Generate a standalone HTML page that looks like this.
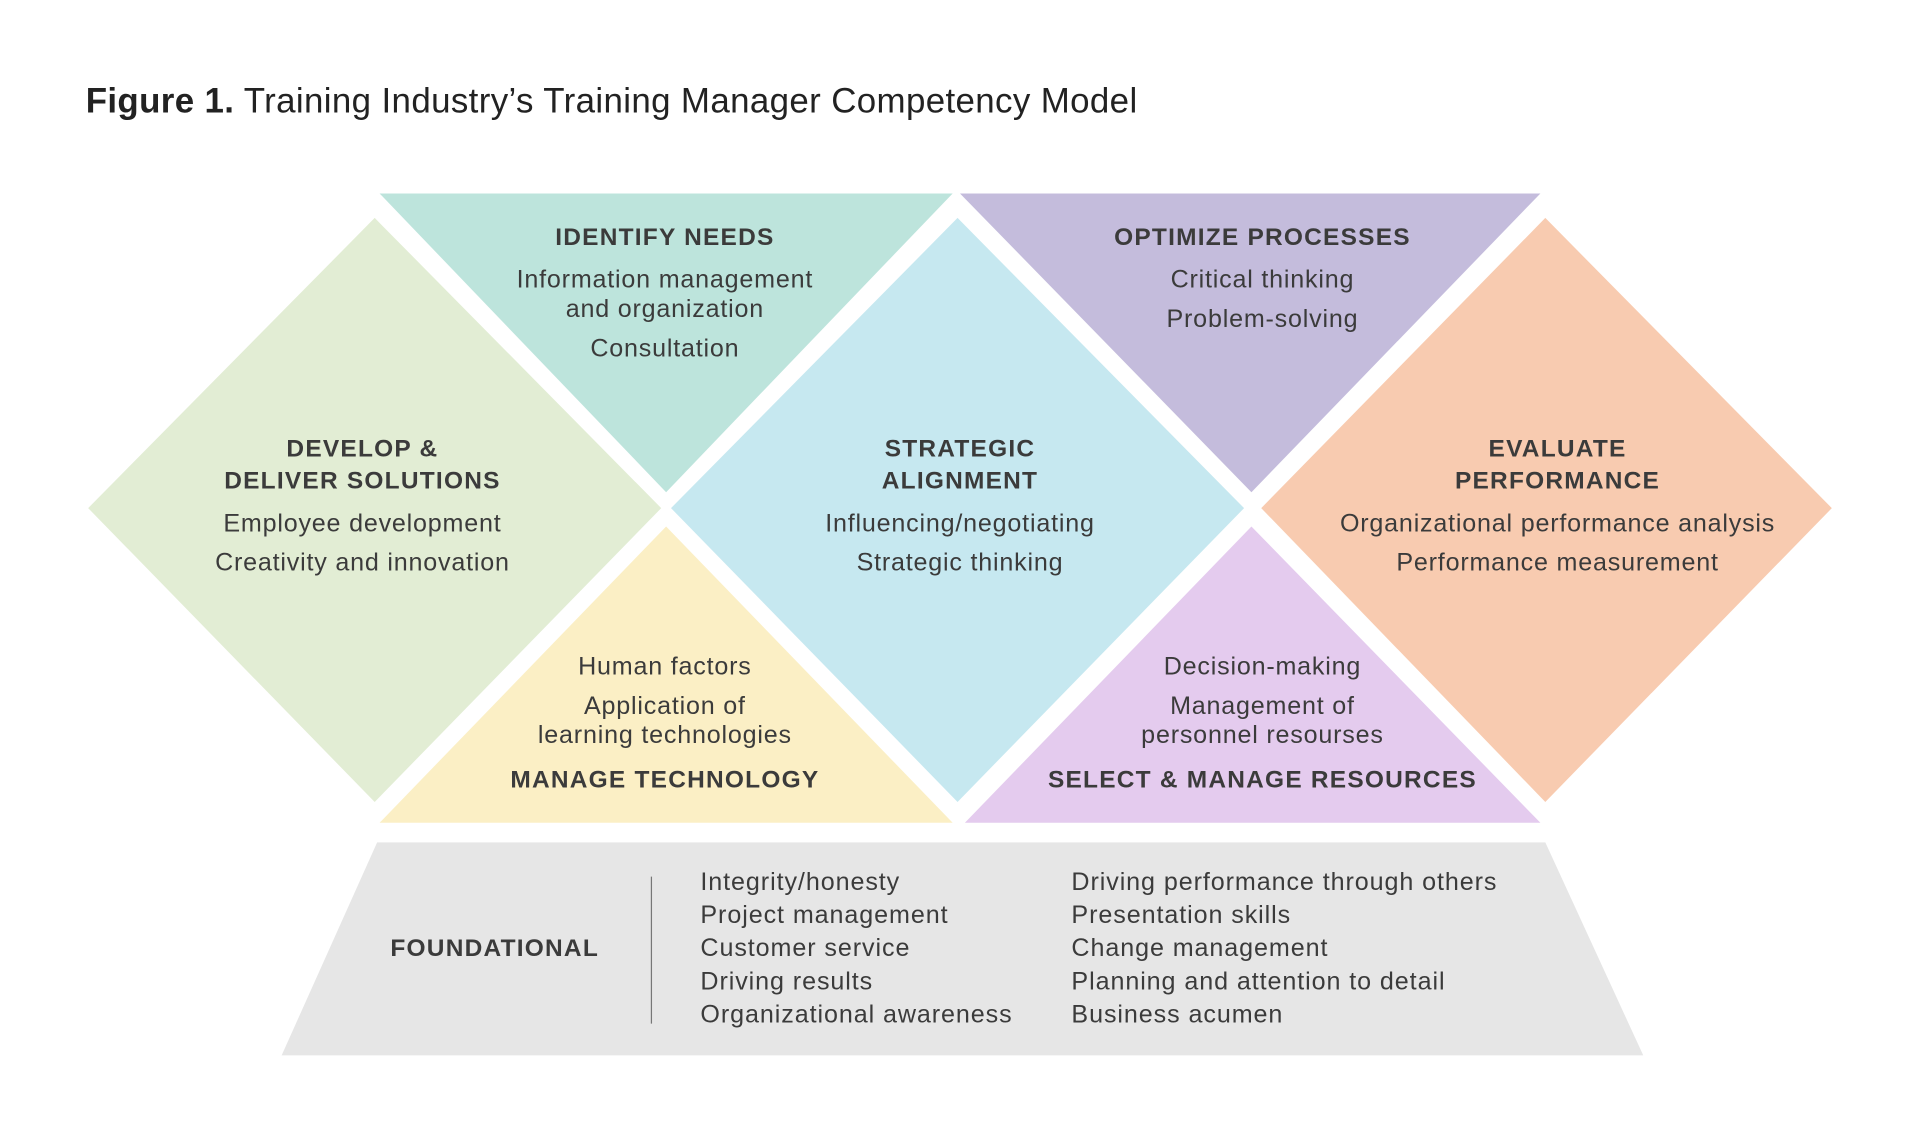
<!DOCTYPE html>
<html><head><meta charset="utf-8"><style>
html,body{margin:0;padding:0;background:#fff}
svg{display:block}
text{font-family:"Liberation Sans",sans-serif;fill:#3b3b3b}
.h{font-weight:bold;font-size:20px;text-anchor:middle;letter-spacing:1px}
.b{font-size:20.5px;text-anchor:middle;letter-spacing:0.65px}
.l{font-size:20.5px;letter-spacing:0.75px}
</style></head><body>
<svg width="1920" height="1146" viewBox="0 0 1568 936" preserveAspectRatio="none">
<text x="70" y="92" style="font-size:28.5px;fill:#222;letter-spacing:0.3px"><tspan font-weight="bold">Figure 1.</tspan> Training Industry’s Training Manager Competency Model</text>
<polygon points="72,415 306,178 540,415 306,655" fill="#e2edd4"/>
<polygon points="310,158 778,158 544,402" fill="#bde4dc"/>
<polygon points="548,415 782,178 1016,415 782,655" fill="#c6e8f0"/>
<polygon points="784,158 1258,158 1022,402" fill="#c4bcdc"/>
<polygon points="1030,415 1262,178 1496,415 1262,655" fill="#f8cbb0"/>
<polygon points="544,430 310,672 778,672" fill="#fbefc5"/>
<polygon points="1022,430 788,672 1258,672" fill="#e4cbee"/>
<polygon points="308,688 1262,688 1342,862 230,862" fill="#e6e6e6"/>
<line x1="532" y1="716" x2="532" y2="836" stroke="#777" stroke-width="1"/>

<text class="h" x="543" y="200">IDENTIFY NEEDS</text>
<text class="b" x="543" y="235">Information management</text>
<text class="b" x="543" y="259">and organization</text>
<text class="b" x="543" y="291">Consultation</text>

<text class="h" x="1031" y="200">OPTIMIZE PROCESSES</text>
<text class="b" x="1031" y="235">Critical thinking</text>
<text class="b" x="1031" y="267">Problem-solving</text>

<text class="h" x="296" y="373">DEVELOP &amp;</text>
<text class="h" x="296" y="399">DELIVER SOLUTIONS</text>
<text class="b" x="296" y="434">Employee development</text>
<text class="b" x="296" y="466">Creativity and innovation</text>

<text class="h" x="784" y="373">STRATEGIC</text>
<text class="h" x="784" y="399">ALIGNMENT</text>
<text class="b" x="784" y="434">Influencing/negotiating</text>
<text class="b" x="784" y="466">Strategic thinking</text>

<text class="h" x="1272" y="373">EVALUATE</text>
<text class="h" x="1272" y="399">PERFORMANCE</text>
<text class="b" x="1272" y="434">Organizational performance analysis</text>
<text class="b" x="1272" y="466">Performance measurement</text>

<text class="b" x="543" y="551">Human factors</text>
<text class="b" x="543" y="583">Application of</text>
<text class="b" x="543" y="607">learning technologies</text>
<text class="h" x="543" y="643">MANAGE TECHNOLOGY</text>

<text class="b" x="1031" y="551">Decision-making</text>
<text class="b" x="1031" y="583">Management of</text>
<text class="b" x="1031" y="607">personnel resourses</text>
<text class="h" x="1031" y="643">SELECT &amp; MANAGE RESOURCES</text>

<text class="h" x="404" y="781">FOUNDATIONAL</text>
<text class="l" x="572" y="727">Integrity/honesty</text>
<text class="l" x="572" y="754">Project management</text>
<text class="l" x="572" y="781">Customer service</text>
<text class="l" x="572" y="808">Driving results</text>
<text class="l" x="572" y="835">Organizational awareness</text>
<text class="l" x="875" y="727">Driving performance through others</text>
<text class="l" x="875" y="754">Presentation skills</text>
<text class="l" x="875" y="781">Change management</text>
<text class="l" x="875" y="808">Planning and attention to detail</text>
<text class="l" x="875" y="835">Business acumen</text>
</svg>
</body></html>
